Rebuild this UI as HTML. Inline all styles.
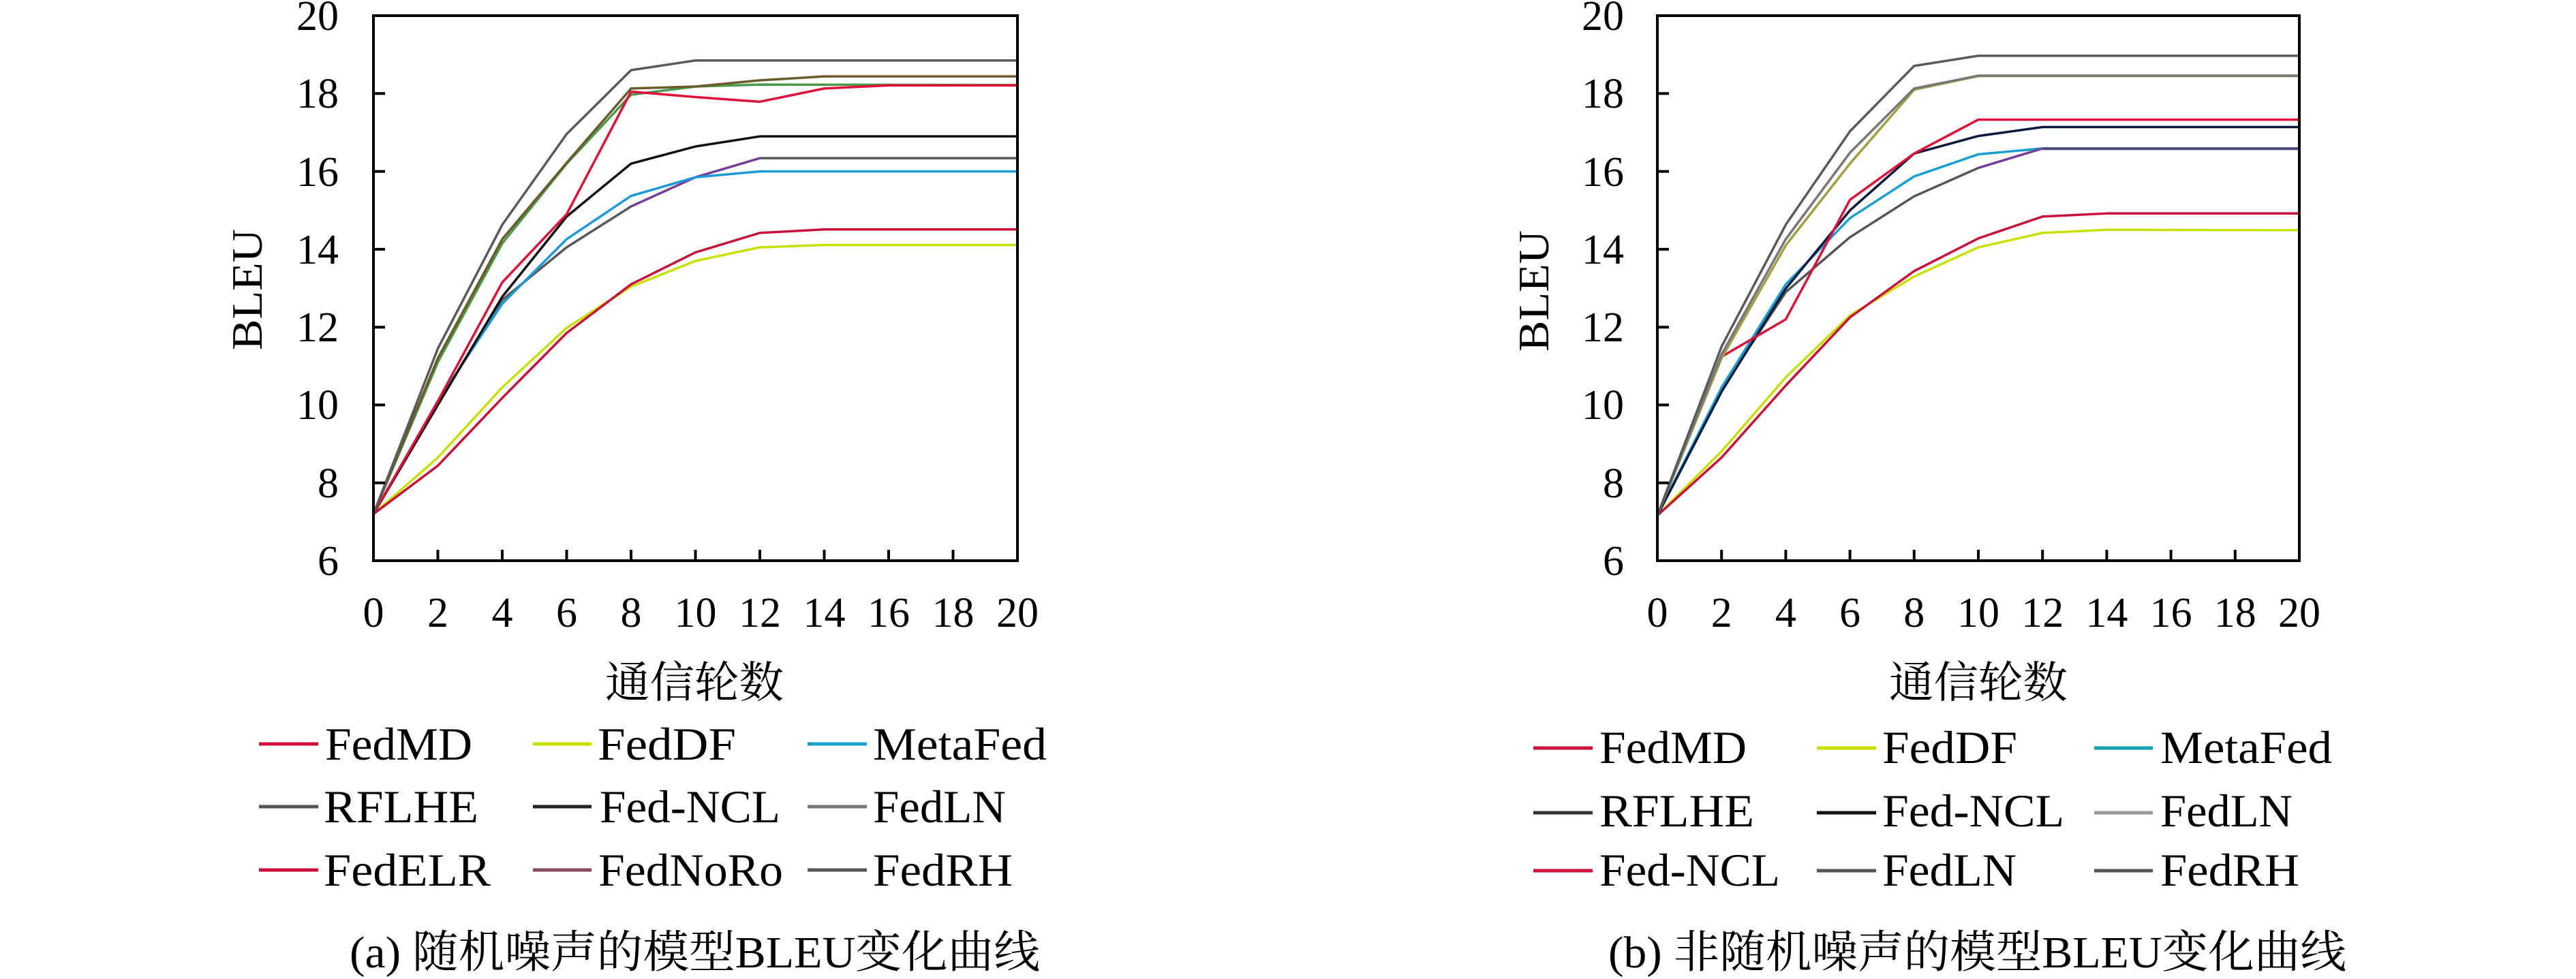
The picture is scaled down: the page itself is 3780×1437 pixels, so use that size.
<!DOCTYPE html>
<html><head><meta charset="utf-8"><style>
html,body{margin:0;padding:0;background:#fff;}
svg{display:block;}
text{font-family:"Liberation Serif","Noto Serif CJK SC",serif;fill:#000;}
</style></head><body>
<svg width="3780" height="1437" viewBox="0 0 3780 1437" xmlns="http://www.w3.org/2000/svg">
<rect width="3780" height="1437" fill="#fff"/>
<defs>
<clipPath id="cl"><rect x="548" y="23" width="945" height="800"/></clipPath>
<clipPath id="cr"><rect x="2432" y="23" width="942" height="800"/></clipPath>
</defs>

<!-- LEFT PLOT -->
<g clip-path="url(#cl)"><g transform="translate(548,1165.84) scale(47.25,-57.14)" fill="none" stroke-linejoin="round">
<polyline vector-effect="non-scaling-stroke" stroke="#c8e000" stroke-width="3.5" points="0,7.2 2,8.65 4,10.45 6,11.98 8,13.04 10,13.7 12,14.05 14,14.11 20,14.11"/>
<polyline vector-effect="non-scaling-stroke" stroke="#c8103a" stroke-width="3.5" points="0,7.2 2,8.44 4,10.18 6,11.85 8,13.1 10,13.92 12,14.42 14,14.51 20,14.51"/>
<polyline vector-effect="non-scaling-stroke" stroke="#585858" stroke-width="3.5" points="0,7.2 2,10.05 4,12.7 6,14.05 8,15.1 10,15.85 12,16.34 20,16.34"/>
<polyline vector-effect="non-scaling-stroke" stroke="#7a3aa0" stroke-width="3" points="8,15.1 10,15.85 12,16.34"/>
<polyline vector-effect="non-scaling-stroke" stroke="#1a9ad8" stroke-width="3.5" points="0,7.2 2,10.1 4,12.6 6,14.26 8,15.37 10,15.85 12,16.0 20,16.0"/>
<polyline vector-effect="non-scaling-stroke" stroke="#111" stroke-width="3.5" points="0,7.2 2,10.0 4,12.78 6,14.84 8,16.2 10,16.64 12,16.9 20,16.9"/>
<polyline vector-effect="non-scaling-stroke" stroke="#4a9a4a" stroke-width="3.5" points="0,7.2 2,11.1 4,14.15 6,16.2 8,17.97 10,18.18 12,18.23 20,18.22"/>
<polyline vector-effect="non-scaling-stroke" stroke="#e0103a" stroke-width="3.5" points="0,7.2 2,10.1 4,13.15 6,14.9 8,18.05 10,17.91 12,17.79 14,18.13 16,18.21 20,18.21"/>
<polyline vector-effect="non-scaling-stroke" stroke="#6b5a2a" stroke-width="3.5" points="0,7.2 2,11.2 4,14.26 6,16.22 8,18.13 10,18.18 12,18.34 14,18.44 20,18.44"/>
<polyline vector-effect="non-scaling-stroke" stroke="#5a5a5a" stroke-width="3.5" points="0,7.2 2,11.45 4,14.63 6,16.96 8,18.6 10,18.85 20,18.85"/>
</g></g>
<rect x="548" y="23" width="945" height="800" fill="none" stroke="#000" stroke-width="4"/>
<g stroke="#000" stroke-width="4">
<line x1="548" y1="137.3" x2="565" y2="137.3"/><line x1="548" y1="251.6" x2="565" y2="251.6"/><line x1="548" y1="365.9" x2="565" y2="365.9"/><line x1="548" y1="480.2" x2="565" y2="480.2"/><line x1="548" y1="594.4" x2="565" y2="594.4"/><line x1="548" y1="708.7" x2="565" y2="708.7"/>
<line x1="642.5" y1="823" x2="642.5" y2="807"/><line x1="737" y1="823" x2="737" y2="807"/><line x1="831.5" y1="823" x2="831.5" y2="807"/><line x1="926" y1="823" x2="926" y2="807"/><line x1="1020.5" y1="823" x2="1020.5" y2="807"/><line x1="1115" y1="823" x2="1115" y2="807"/><line x1="1209.5" y1="823" x2="1209.5" y2="807"/><line x1="1304" y1="823" x2="1304" y2="807"/><line x1="1398.5" y1="823" x2="1398.5" y2="807"/>
</g>
<g font-size="62" text-anchor="end">
<text x="497" y="44">20</text><text x="497" y="158">18</text><text x="497" y="273">16</text><text x="497" y="387">14</text><text x="497" y="501">12</text><text x="497" y="615">10</text><text x="497" y="730">8</text><text x="497" y="844">6</text>
</g>
<g font-size="62" text-anchor="middle">
<text x="548" y="920">0</text><text x="642.5" y="920">2</text><text x="737" y="920">4</text><text x="831.5" y="920">6</text><text x="926" y="920">8</text><text x="1020.5" y="920">10</text><text x="1115" y="920">12</text><text x="1209.5" y="920">14</text><text x="1304" y="920">16</text><text x="1398.5" y="920">18</text><text x="1493" y="920">20</text>
</g>
<text transform="translate(384,425) rotate(-90)" font-size="64" text-anchor="middle" textLength="178" lengthAdjust="spacingAndGlyphs">BLEU</text>
<text x="888" y="1024" font-size="64" textLength="262" lengthAdjust="spacingAndGlyphs">通信轮数</text>

<g stroke-width="5">
<line x1="380" y1="1092" x2="467" y2="1092" stroke="#d0103a"/>
<line x1="782" y1="1092" x2="868" y2="1092" stroke="#c8e000"/>
<line x1="1185" y1="1092" x2="1272" y2="1092" stroke="#1aa0d0"/>
<line x1="380" y1="1184" x2="467" y2="1184" stroke="#555"/>
<line x1="782" y1="1184" x2="868" y2="1184" stroke="#222"/>
<line x1="1185" y1="1184" x2="1272" y2="1184" stroke="#777"/>
<line x1="380" y1="1277" x2="467" y2="1277" stroke="#c8103a"/>
<line x1="782" y1="1277" x2="868" y2="1277" stroke="#8a4a60"/>
<line x1="1185" y1="1277" x2="1272" y2="1277" stroke="#555"/>
</g>
<g font-size="68">
<text x="477" y="1115" textLength="216" lengthAdjust="spacingAndGlyphs">FedMD</text>
<text x="877" y="1115" textLength="203" lengthAdjust="spacingAndGlyphs">FedDF</text>
<text x="1281" y="1115" textLength="255" lengthAdjust="spacingAndGlyphs">MetaFed</text>
<text x="475" y="1207" textLength="227" lengthAdjust="spacingAndGlyphs">RFLHE</text>
<text x="880" y="1207" textLength="265" lengthAdjust="spacingAndGlyphs">Fed-NCL</text>
<text x="1281" y="1207" textLength="195" lengthAdjust="spacingAndGlyphs">FedLN</text>
<text x="475" y="1300" textLength="245" lengthAdjust="spacingAndGlyphs">FedELR</text>
<text x="878" y="1300" textLength="271" lengthAdjust="spacingAndGlyphs">FedNoRo</text>
<text x="1281" y="1300" textLength="205" lengthAdjust="spacingAndGlyphs">FedRH</text>
</g>
<text x="513" y="1420" font-size="66" textLength="1013" lengthAdjust="spacingAndGlyphs">(a) 随机噪声的模型BLEU变化曲线</text>

<!-- RIGHT PLOT -->
<g clip-path="url(#cr)"><g transform="translate(2432,1165.84) scale(47.1,-57.14)" fill="none" stroke-linejoin="round">
<polyline vector-effect="non-scaling-stroke" stroke="#c8e000" stroke-width="3.5" points="0,7.16 2,8.81 4,10.71 6,12.3 8,13.3 10,14.05 12,14.42 14,14.5 20,14.49"/>
<polyline vector-effect="non-scaling-stroke" stroke="#c8103a" stroke-width="3.5" points="0,7.16 2,8.65 4,10.5 6,12.25 8,13.44 10,14.28 12,14.84 14,14.92 20,14.92"/>
<polyline vector-effect="non-scaling-stroke" stroke="#555" stroke-width="3.5" points="0,7.16 2,10.4 4,12.9 6,14.31 8,15.36 10,16.09 12,16.59 20,16.59"/>
<polyline vector-effect="non-scaling-stroke" stroke="#1aa0d0" stroke-width="3.5" points="0,7.16 2,10.45 4,13.1 6,14.8 8,15.87 10,16.44 12,16.59"/>
<polyline vector-effect="non-scaling-stroke" stroke="#7a3aa0" stroke-width="3" points="10,16.09 12,16.59"/>
<polyline vector-effect="non-scaling-stroke" stroke="#4a4a80" stroke-width="3.5" points="12,16.58 20,16.58"/>
<polyline vector-effect="non-scaling-stroke" stroke="#0a1a3a" stroke-width="3.5" points="0,7.16 2,10.34 4,12.99 6,15.0 8,16.46 10,16.91 12,17.14 20,17.14"/>
<polyline vector-effect="non-scaling-stroke" stroke="#e0103a" stroke-width="3.5" points="0,7.16 2,11.24 4,12.2 6,15.27 8,16.46 10,17.33 20,17.33"/>
<polyline vector-effect="non-scaling-stroke" stroke="#a0a040" stroke-width="3.5" points="0,7.16 2,11.2 4,14.1 6,16.2 8,18.1 10,18.45 20,18.45"/>
<polyline vector-effect="non-scaling-stroke" stroke="#777" stroke-width="3.5" points="0,7.16 2,11.3 4,14.26 6,16.48 8,18.13 10,18.46 20,18.46"/>
<polyline vector-effect="non-scaling-stroke" stroke="#5a5a5a" stroke-width="3.5" points="0,7.16 2,11.5 4,14.63 6,17.03 8,18.71 10,18.97 20,18.97"/>
</g></g>
<rect x="2432" y="23" width="942" height="800" fill="none" stroke="#000" stroke-width="4"/>
<g stroke="#000" stroke-width="4">
<line x1="2432" y1="137.3" x2="2449" y2="137.3"/><line x1="2432" y1="251.6" x2="2449" y2="251.6"/><line x1="2432" y1="365.9" x2="2449" y2="365.9"/><line x1="2432" y1="480.2" x2="2449" y2="480.2"/><line x1="2432" y1="594.4" x2="2449" y2="594.4"/><line x1="2432" y1="708.7" x2="2449" y2="708.7"/>
<line x1="2526.2" y1="823" x2="2526.2" y2="807"/><line x1="2620.4" y1="823" x2="2620.4" y2="807"/><line x1="2714.6" y1="823" x2="2714.6" y2="807"/><line x1="2808.8" y1="823" x2="2808.8" y2="807"/><line x1="2903" y1="823" x2="2903" y2="807"/><line x1="2997.2" y1="823" x2="2997.2" y2="807"/><line x1="3091.4" y1="823" x2="3091.4" y2="807"/><line x1="3185.6" y1="823" x2="3185.6" y2="807"/><line x1="3279.8" y1="823" x2="3279.8" y2="807"/>
</g>
<g font-size="62" text-anchor="end">
<text x="2383" y="44">20</text><text x="2383" y="158">18</text><text x="2383" y="273">16</text><text x="2383" y="387">14</text><text x="2383" y="501">12</text><text x="2383" y="615">10</text><text x="2383" y="730">8</text><text x="2383" y="844">6</text>
</g>
<g font-size="62" text-anchor="middle">
<text x="2432" y="920">0</text><text x="2526.2" y="920">2</text><text x="2620.4" y="920">4</text><text x="2714.6" y="920">6</text><text x="2808.8" y="920">8</text><text x="2903" y="920">10</text><text x="2997.2" y="920">12</text><text x="3091.4" y="920">14</text><text x="3185.6" y="920">16</text><text x="3279.8" y="920">18</text><text x="3374" y="920">20</text>
</g>
<text transform="translate(2272,427) rotate(-90)" font-size="64" text-anchor="middle" textLength="178" lengthAdjust="spacingAndGlyphs">BLEU</text>
<text x="2772" y="1024" font-size="64" textLength="262" lengthAdjust="spacingAndGlyphs">通信轮数</text>

<g stroke-width="5">
<line x1="2250" y1="1098" x2="2337" y2="1098" stroke="#d0103a"/>
<line x1="2666" y1="1098" x2="2753" y2="1098" stroke="#c8e000"/>
<line x1="3073" y1="1098" x2="3159" y2="1098" stroke="#10a0b0"/>
<line x1="2250" y1="1193" x2="2337" y2="1193" stroke="#333"/>
<line x1="2666" y1="1193" x2="2753" y2="1193" stroke="#111"/>
<line x1="3073" y1="1193" x2="3159" y2="1193" stroke="#999"/>
<line x1="2250" y1="1278" x2="2337" y2="1278" stroke="#d0103a"/>
<line x1="2666" y1="1278" x2="2753" y2="1278" stroke="#555"/>
<line x1="3073" y1="1278" x2="3159" y2="1278" stroke="#555"/>
</g>
<g font-size="68">
<text x="2347" y="1120" textLength="216" lengthAdjust="spacingAndGlyphs">FedMD</text>
<text x="2762" y="1120" textLength="198" lengthAdjust="spacingAndGlyphs">FedDF</text>
<text x="3170" y="1120" textLength="252" lengthAdjust="spacingAndGlyphs">MetaFed</text>
<text x="2347" y="1213" textLength="227" lengthAdjust="spacingAndGlyphs">RFLHE</text>
<text x="2762" y="1213" textLength="267" lengthAdjust="spacingAndGlyphs">Fed-NCL</text>
<text x="3170" y="1213" textLength="194" lengthAdjust="spacingAndGlyphs">FedLN</text>
<text x="2347" y="1300" textLength="265" lengthAdjust="spacingAndGlyphs">Fed-NCL</text>
<text x="2762" y="1300" textLength="197" lengthAdjust="spacingAndGlyphs">FedLN</text>
<text x="3170" y="1300" textLength="204" lengthAdjust="spacingAndGlyphs">FedRH</text>
</g>
<text x="2360" y="1420" font-size="66" textLength="1083" lengthAdjust="spacingAndGlyphs">(b) 非随机噪声的模型BLEU变化曲线</text>
</svg>
</body></html>
